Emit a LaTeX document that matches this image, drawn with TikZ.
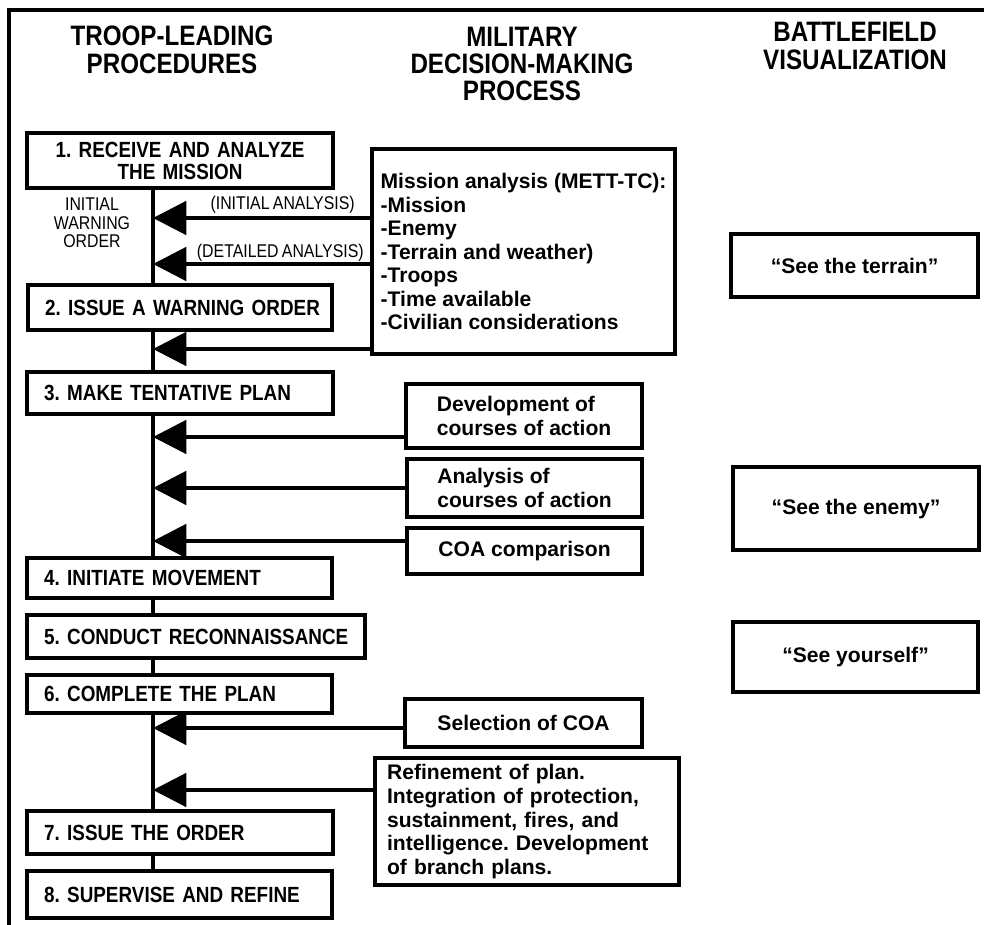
\documentclass[tikz,border=0pt]{standalone}
\usepackage{fontspec}
\setmainfont{Liberation Sans}
\newfontfamily\narrowfont[FakeStretch=0.86, WordSpace=0.75]{Liberation Sans}
\frenchspacing
\usetikzlibrary{arrows.meta}
\tikzstyle{heading} = [font=\narrowfont\bfseries\fontsize{16}{15.6}\selectfont, align=center, inner sep=0pt]
\tikzstyle{stepbox} = [rectangle, draw=black, line width=2.4pt, fill=white, anchor=north west, inner xsep=0.34cm, inner ysep=0pt, text width=5.44cm, align=left, font=\narrowfont\bfseries\fontsize{12.5}{12.5}\selectfont]
\tikzstyle{mdmpbox} = [rectangle, draw=black, line width=2.4pt, fill=white, anchor=north west, inner sep=0.14cm, align=left, font=\bfseries\fontsize{12}{13.4}\selectfont]
\tikzstyle{viewbox} = [rectangle, draw=black, line width=2.4pt, fill=white, anchor=north west, font=\bfseries\fontsize{12}{13.4}\selectfont]
\tikzstyle{smalltext} = [font=\narrowfont\fontsize{10.5}{10.5}\selectfont, align=center, inner sep=0pt]
\tikzstyle{arrow} = [line width=2.3pt, -{Triangle[length=19pt,width=19pt]}]
\tikzstyle{spineline} = [line width=2.3pt]

\begin{document}
\begin{tikzpicture}[x=0.02cm, y=-0.02cm]
	\useasboundingbox (0,0) rectangle (984,925);
	\draw[line width=1.8pt] (9,925) -- (9,10) -- (984,10);

	% column headings
	\node (tlp) [heading] at (172,50) {TROOP-LEADING\\PROCEDURES};
	\node (mdmp) [heading] at (522,64) {MILITARY\\DECISION-MAKING\\PROCESS};
	\node (bv) [heading] at (855,46) {BATTLEFIELD\\VISUALIZATION};

	% troop-leading steps
	\node (s1) [stepbox, align=center, minimum height=1.1cm] at (25,131) {1. RECEIVE AND ANALYZE\\THE MISSION};
	\node (s2) [stepbox, text width=5.4cm, minimum height=0.9cm] at (26,283) {\mbox{2. ISSUE A WARNING ORDER}};
	\node (s3) [stepbox, minimum height=0.84cm] at (25,370) {\mbox{3. MAKE TENTATIVE PLAN}};
	\node (s4) [stepbox, text width=5.42cm, minimum height=0.8cm] at (25,556) {\mbox{4. INITIATE MOVEMENT}};
	\node (s5) [stepbox, text width=6.08cm, minimum height=0.86cm] at (25,613) {\mbox{5. CONDUCT RECONNAISSANCE}};
	\node (s6) [stepbox, text width=5.42cm, minimum height=0.76cm] at (25,673) {\mbox{6. COMPLETE THE PLAN}};
	\node (s7) [stepbox, minimum height=0.86cm] at (25,809) {\mbox{7. ISSUE THE ORDER}};
	\node (s8) [stepbox, text width=5.42cm, minimum height=0.94cm] at (25,869) {\mbox{8. SUPERVISE AND REFINE}};
	\node (iwo) [smalltext] at (92,223) {INITIAL\\WARNING\\ORDER};

	% decision-making process
	\node (mett) [mdmpbox, minimum width=6.06cm, minimum height=4.1cm] at (370,147) {Mission analysis (METT-TC):\\-Mission\\-Enemy\\-Terrain and weather)\\-Troops\\-Time available\\-Civilian considerations};
	\node (dev) [mdmpbox, minimum width=4.72cm, minimum height=1.28cm] at (404,382) {Development of\\courses of action};
	\node (ana) [mdmpbox, minimum width=4.7cm, minimum height=1.16cm] at (405,457) {Analysis of\\courses of action};
	\node (coa) [mdmpbox, minimum width=4.7cm, minimum height=0.92cm] at (405,526) {COA comparison};
	\node (sel) [mdmpbox, minimum width=4.74cm, minimum height=0.96cm] at (403,697) {Selection of COA};
	\node (ref) [mdmpbox, text width=5.6cm, inner xsep=0.24cm, inner ysep=0.03cm, minimum height=2.54cm] at (373,756) {Refinement of plan.\\Integration of protection,\\sustainment, fires, and\\intelligence. Development\\of branch plans.};
	\node (ialbl) [smalltext, anchor=east] at (355,205) {(INITIAL ANALYSIS)};
	\node (dalbl) [smalltext, anchor=east] at (364,253) {(DETAILED ANALYSIS)};

	% battlefield visualization
	\node (terrain) [viewbox, minimum width=4.94cm, minimum height=1.26cm] at (729,232) {“See the terrain”};
	\node (enemy) [viewbox, minimum width=4.92cm, minimum height=1.66cm] at (731,465) {“See the enemy”};
	\node (self) [viewbox, minimum width=4.9cm, minimum height=1.4cm] at (731,620) {“See yourself”};

	% spine and arrows
	\coordinate (spine) at (153,0);
	\foreach \a/\b in {s1/s2, s2/s3, s3/s4, s4/s5, s5/s6, s6/s7, s7/s8}
		\draw[spineline] (spine |- \a.south) -- (spine |- \b.north);
	\foreach \n/\src/\y in {1/mett/218, 2/mett/264, 3/mett/349, 4/dev/437, 5/ana/488, 6/coa/541, 7/sel/728, 8/ref/790} {
		\coordinate (row\n) at (0,\y);
		\draw[arrow] (\src.west |- row\n) -- (spine |- row\n);
	}
\end{tikzpicture}
\end{document}
